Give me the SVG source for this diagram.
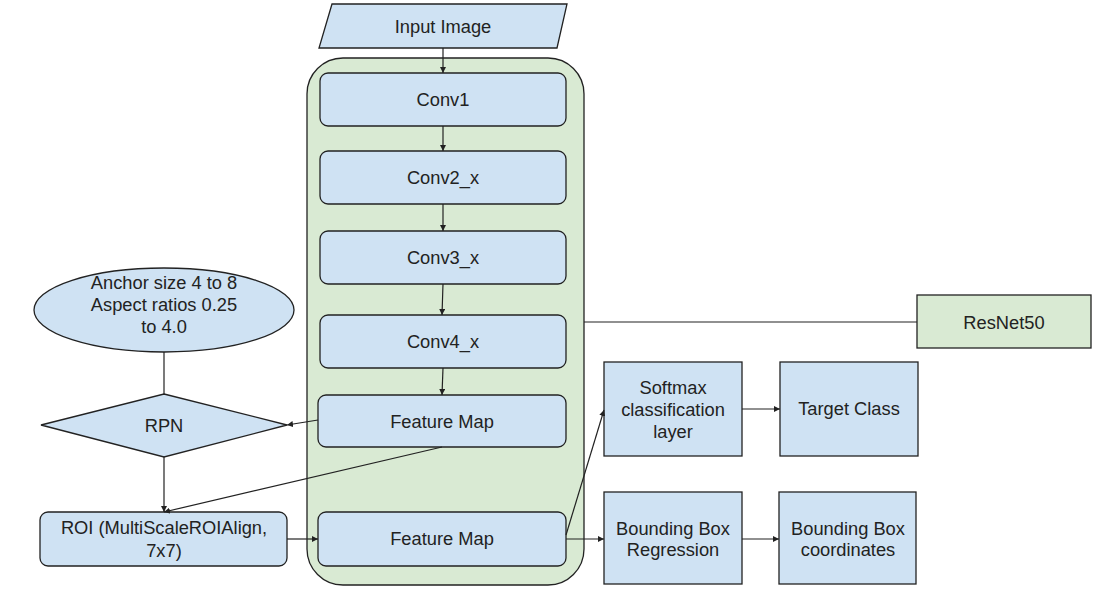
<svg xmlns="http://www.w3.org/2000/svg" width="1093" height="607" viewBox="0 0 1093 607">
<style>
.b{fill:#cfe2f3;stroke:#222;stroke-width:1.3}
.g{fill:#d9ead3;stroke:#222;stroke-width:1.3}
.t{font-family:"Liberation Sans",Arial,sans-serif;font-size:18.3px;fill:#222;text-anchor:middle}
.c{fill:none;stroke:#222;stroke-width:1.2}
</style>
<defs>
<marker id="ar" viewBox="0 0 10 10" refX="10" refY="5" markerWidth="6" markerHeight="6" markerUnits="userSpaceOnUse" orient="auto">
<path d="M0,0 L10,5 L0,10 z" fill="#222"/>
</marker>
</defs>
<rect width="1093" height="607" fill="#fff"/>
<g id="resnet-container"><rect class="g" x="307" y="58" width="277" height="527" rx="36"/></g>
<g id="input"><polygon class="b" points="332,4 567,4 557,48 319,48"/><text class="t" x="443" y="33">Input Image</text></g>
<g id="conv1"><rect class="b" x="320" y="73" width="246" height="53" rx="8"/><text class="t" x="443" y="106">Conv1</text></g>
<g id="conv2"><rect class="b" x="320" y="151" width="246" height="53" rx="8"/><text class="t" x="443" y="184">Conv2_x</text></g>
<g id="conv3"><rect class="b" x="320" y="231" width="246" height="53" rx="8"/><text class="t" x="443" y="264">Conv3_x</text></g>
<g id="conv4"><rect class="b" x="320" y="315" width="246" height="53" rx="8"/><text class="t" x="443" y="348">Conv4_x</text></g>
<g id="fm1"><rect class="b" x="318" y="395" width="248" height="52" rx="8"/><text class="t" x="442" y="428">Feature Map</text></g>
<g id="fm2"><rect class="b" x="318" y="512" width="248" height="54" rx="8"/><text class="t" x="442" y="545">Feature Map</text></g>
<g id="anchor"><ellipse class="b" cx="164" cy="310" rx="130" ry="42"/><text class="t" x="164" y="289">Anchor size 4 to 8</text><text class="t" x="164" y="311">Aspect ratios 0.25</text><text class="t" x="164" y="333">to 4.0</text></g>
<g id="rpn"><polygon class="b" points="164,394 287,425 164,457 41,425"/><text class="t" x="164" y="432">RPN</text></g>
<g id="roi"><rect class="b" x="40" y="512" width="247" height="54" rx="8"/><text class="t" x="164" y="534">ROI (MultiScaleROIAlign,</text><text class="t" x="164" y="557">7x7)</text></g>
<g id="resnet50"><rect class="g" x="917" y="295" width="174" height="53"/><text class="t" x="1004" y="329">ResNet50</text></g>
<g id="softmax"><rect class="b" x="604" y="362" width="138" height="94"/><text class="t" x="673" y="394">Softmax</text><text class="t" x="673" y="416">classification</text><text class="t" x="673" y="438">layer</text></g>
<g id="target"><rect class="b" x="780" y="362" width="138" height="94"/><text class="t" x="849" y="415">Target Class</text></g>
<g id="bbreg"><rect class="b" x="604" y="492" width="138" height="92"/><text class="t" x="673" y="535">Bounding Box</text><text class="t" x="673" y="556">Regression</text></g>
<g id="bbcoord"><rect class="b" x="779" y="492" width="137" height="92"/><text class="t" x="848" y="535">Bounding Box</text><text class="t" x="848" y="556">coordinates</text></g>
<g id="connectors">
<line class="c" x1="443" y1="48" x2="443" y2="73" marker-end="url(#ar)"/>
<line class="c" x1="443" y1="126" x2="443" y2="151" marker-end="url(#ar)"/>
<line class="c" x1="443" y1="204" x2="443" y2="231" marker-end="url(#ar)"/>
<line class="c" x1="443" y1="284" x2="442" y2="315" marker-end="url(#ar)"/>
<line class="c" x1="443" y1="368" x2="442" y2="395" marker-end="url(#ar)"/>
<line class="c" x1="318" y1="420" x2="287" y2="425" marker-end="url(#ar)"/>
<line class="c" x1="164" y1="352" x2="164" y2="394"/>
<line class="c" x1="164" y1="457" x2="164" y2="512" marker-end="url(#ar)"/>
<line class="c" x1="442" y1="447" x2="164" y2="512" marker-end="url(#ar)"/>
<line class="c" x1="287" y1="539" x2="318" y2="539" marker-end="url(#ar)"/>
<line class="c" x1="566" y1="539" x2="604" y2="539" marker-end="url(#ar)"/>
<line class="c" x1="566" y1="535" x2="604" y2="410" marker-end="url(#ar)"/>
<line class="c" x1="742" y1="409" x2="780" y2="409" marker-end="url(#ar)"/>
<line class="c" x1="742" y1="539" x2="779" y2="539" marker-end="url(#ar)"/>
<line class="c" x1="584" y1="322" x2="917" y2="322"/>
</g>
</svg>
